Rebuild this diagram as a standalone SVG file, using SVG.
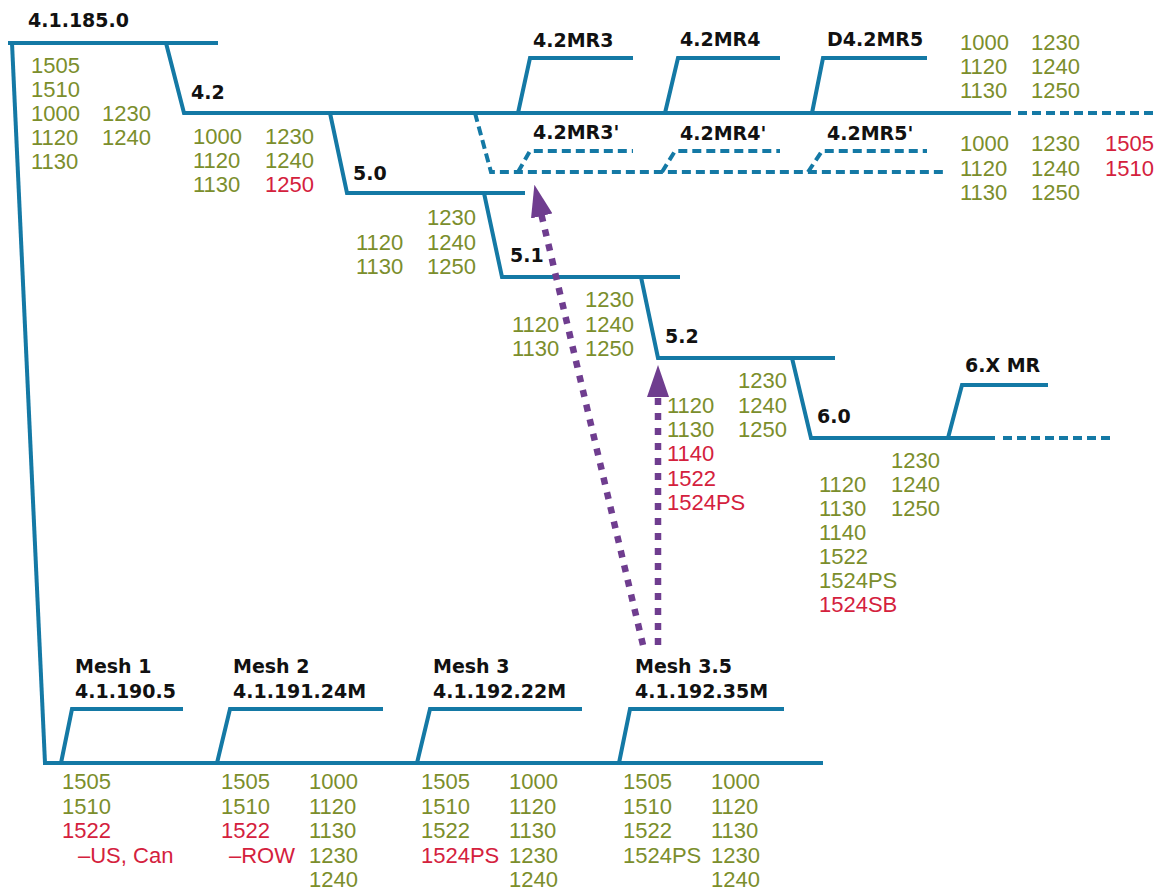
<svg xmlns="http://www.w3.org/2000/svg" width="1157" height="888" viewBox="0 0 1157 888">
<style>
.ln{fill:none;stroke:#1479a5;stroke-width:4;stroke-linejoin:miter}
.dl{fill:none;stroke:#1479a5;stroke-width:4;stroke-dasharray:9 5}
.lb{font-family:"DejaVu Sans",sans-serif;font-weight:bold;font-size:19px;fill:#111}
.g{font-family:"Liberation Sans",Arial,sans-serif;font-size:22px;fill:#7b8e2c}
.r{font-family:"Liberation Sans",Arial,sans-serif;font-size:22px;fill:#d4213d}
.pa{fill:none;stroke:#6f3d8f;stroke-width:6.5;stroke-dasharray:7 8}
</style>
<defs>
<marker id="ah" viewBox="0 0 32 22" refX="1" refY="11" markerWidth="32" markerHeight="22" markerUnits="userSpaceOnUse" orient="auto">
<path d="M0,0 L32,11 L0,22 z" fill="#6f3d8f"/>
</marker>
</defs>
<rect width="1157" height="888" fill="#ffffff"/>

<g id="r4-1-185-0">
<polyline class="ln" points="8,43 218,43"/>
<polyline class="ln" points="12,43 45,763"/>
<text class="lb" x="28" y="27">4.1.185.0</text>
<text class="g" x="31" y="73">1505</text>
<text class="g" x="31" y="97">1510</text>
<text class="g" x="31" y="121">1000</text>
<text class="g" x="31" y="145">1120</text>
<text class="g" x="31" y="169">1130</text>
<text class="g" x="102" y="121">1230</text>
<text class="g" x="102" y="145">1240</text>
</g>

<g id="r4-2">
<polyline class="ln" points="166,43 184,113 1011,113"/>
<line class="dl" x1="1018" y1="113" x2="1157" y2="113"/>
<text class="lb" x="191" y="99">4.2</text>
<text class="g" x="193" y="144">1000</text>
<text class="g" x="193" y="168">1120</text>
<text class="g" x="193" y="192">1130</text>
<text class="g" x="265" y="144">1230</text>
<text class="g" x="265" y="168">1240</text>
<text class="r" x="265" y="192">1250</text>
</g>

<g id="r4-2MR3">
<polyline class="ln" points="518,113 530,58 633,58"/>
<text class="lb" x="533" y="47">4.2MR3</text>
</g>
<g id="r4-2MR4">
<polyline class="ln" points="665,113 678,58 780,58"/>
<text class="lb" x="680" y="46">4.2MR4</text>
</g>
<g id="rD4-2MR5">
<polyline class="ln" points="812,113 823,58 927,58"/>
<text class="lb" x="827" y="46">D4.2MR5</text>
<text class="g" x="960" y="50">1000</text>
<text class="g" x="960" y="74">1120</text>
<text class="g" x="960" y="98">1130</text>
<text class="g" x="1031" y="50">1230</text>
<text class="g" x="1031" y="74">1240</text>
<text class="g" x="1031" y="98">1250</text>
</g>

<g id="r4-2prime">
<polyline class="dl" points="475,113 491,172 943,172"/>
<text class="g" x="960" y="151">1000</text>
<text class="g" x="960" y="176">1120</text>
<text class="g" x="960" y="200">1130</text>
<text class="g" x="1031" y="151">1230</text>
<text class="g" x="1031" y="176">1240</text>
<text class="g" x="1031" y="200">1250</text>
<text class="r" x="1105" y="151">1505</text>
<text class="r" x="1105" y="176">1510</text>
</g>
<g id="r4-2MR3p">
<polyline class="dl" points="518,172 530,151 633,151"/>
<text class="lb" x="533" y="139">4.2MR3'</text>
</g>
<g id="r4-2MR4p">
<polyline class="dl" points="662,172 675,151 780,151"/>
<text class="lb" x="680" y="140">4.2MR4'</text>
</g>
<g id="r4-2MR5p">
<polyline class="dl" points="808,172 822,151 927,151"/>
<text class="lb" x="827" y="140">4.2MR5'</text>
</g>

<g id="r5-0">
<polyline class="ln" points="330,113 347,193 525,193"/>
<text class="lb" x="353" y="180">5.0</text>
<text class="g" x="427" y="225">1230</text>
<text class="g" x="356" y="250">1120</text>
<text class="g" x="427" y="250">1240</text>
<text class="g" x="356" y="274">1130</text>
<text class="g" x="427" y="274">1250</text>
</g>

<g id="r5-1">
<polyline class="ln" points="484,193 502,277 680,277"/>
<text class="lb" x="510" y="262">5.1</text>
<text class="g" x="585" y="307">1230</text>
<text class="g" x="512" y="332">1120</text>
<text class="g" x="585" y="332">1240</text>
<text class="g" x="512" y="356">1130</text>
<text class="g" x="585" y="356">1250</text>
</g>

<g id="r5-2">
<polyline class="ln" points="641,277 658,358 835,358"/>
<text class="lb" x="665" y="343">5.2</text>
<text class="g" x="738" y="388">1230</text>
<text class="g" x="667" y="413">1120</text>
<text class="g" x="738" y="413">1240</text>
<text class="g" x="667" y="437">1130</text>
<text class="g" x="738" y="437">1250</text>
<text class="r" x="667" y="461">1140</text>
<text class="r" x="667" y="486">1522</text>
<text class="r" x="667" y="510">1524PS</text>
</g>

<g id="r6-0">
<polyline class="ln" points="792,358 811,438 995,438"/>
<line class="dl" x1="1003" y1="438" x2="1115" y2="438"/>
<text class="lb" x="817" y="423">6.0</text>
<text class="g" x="891" y="468">1230</text>
<text class="g" x="819" y="492">1120</text>
<text class="g" x="891" y="492">1240</text>
<text class="g" x="819" y="516">1130</text>
<text class="g" x="891" y="516">1250</text>
<text class="g" x="819" y="540">1140</text>
<text class="g" x="819" y="564">1522</text>
<text class="g" x="819" y="588">1524PS</text>
<text class="r" x="819" y="612">1524SB</text>
</g>

<g id="r6-XMR">
<polyline class="ln" points="948,438 962,385 1048,385"/>
<text class="lb" x="965" y="372">6.X MR</text>
</g>

<g id="mesh-trunk">
<polyline class="ln" points="43,763 823,763"/>
</g>

<g id="mesh1">
<polyline class="ln" points="61,763 72,709 183,709"/>
<text class="lb" x="75" y="673">Mesh 1</text>
<text class="lb" x="75" y="698">4.1.190.5</text>
<text class="g" x="62" y="789">1505</text>
<text class="g" x="62" y="814">1510</text>
<text class="r" x="62" y="838">1522</text>
<text class="r" x="78" y="863">–US, Can</text>
</g>

<g id="mesh2">
<polyline class="ln" points="217,763 230,709 383,709"/>
<text class="lb" x="233" y="673">Mesh 2</text>
<text class="lb" x="233" y="698">4.1.191.24M</text>
<text class="g" x="221" y="789">1505</text>
<text class="g" x="221" y="814">1510</text>
<text class="r" x="221" y="838">1522</text>
<text class="r" x="229" y="863">–ROW</text>
<text class="g" x="309" y="789">1000</text>
<text class="g" x="309" y="814">1120</text>
<text class="g" x="309" y="838">1130</text>
<text class="g" x="309" y="863">1230</text>
<text class="g" x="309" y="887">1240</text>
</g>

<g id="mesh3">
<polyline class="ln" points="417,763 430,709 582,709"/>
<text class="lb" x="433" y="673">Mesh 3</text>
<text class="lb" x="433" y="698">4.1.192.22M</text>
<text class="g" x="421" y="789">1505</text>
<text class="g" x="421" y="814">1510</text>
<text class="g" x="421" y="838">1522</text>
<text class="r" x="421" y="863">1524PS</text>
<text class="g" x="509" y="789">1000</text>
<text class="g" x="509" y="814">1120</text>
<text class="g" x="509" y="838">1130</text>
<text class="g" x="509" y="863">1230</text>
<text class="g" x="509" y="887">1240</text>
</g>

<g id="mesh3-5">
<polyline class="ln" points="619,763 630,709 784,709"/>
<text class="lb" x="635" y="673">Mesh 3.5</text>
<text class="lb" x="635" y="698">4.1.192.35M</text>
<text class="g" x="623" y="789">1505</text>
<text class="g" x="623" y="814">1510</text>
<text class="g" x="623" y="838">1522</text>
<text class="g" x="623" y="863">1524PS</text>
<text class="g" x="711" y="789">1000</text>
<text class="g" x="711" y="814">1120</text>
<text class="g" x="711" y="838">1130</text>
<text class="g" x="711" y="863">1230</text>
<text class="g" x="711" y="887">1240</text>
</g>

<g id="connectors">
<line class="pa" x1="643" y1="645" x2="541.5" y2="215" marker-end="url(#ah)"/>
<line class="pa" x1="658" y1="645" x2="658" y2="396" marker-end="url(#ah)"/>
</g>
</svg>
